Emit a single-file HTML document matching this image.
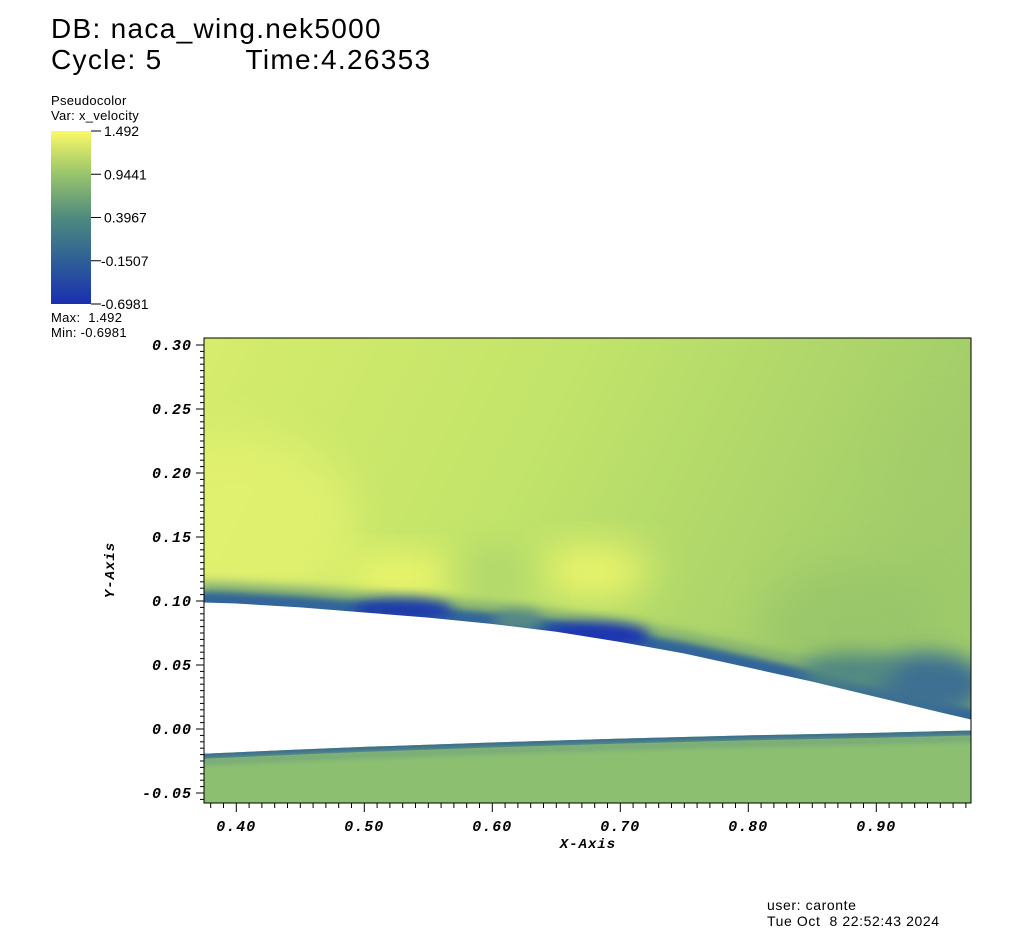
<!DOCTYPE html>
<html><head><meta charset="utf-8"><style>
body{margin:0;background:#fff;width:1023px;height:946px;overflow:hidden;font-family:"Liberation Sans",sans-serif}
.t{position:absolute;white-space:nowrap;color:#000}
</style></head><body>
<div class="t" style="left:51px;top:14px;font-size:28px;line-height:29px;letter-spacing:1.3px">DB: naca_wing.nek5000</div>
<div class="t" style="left:51px;top:45px;font-size:28px;line-height:29px;letter-spacing:1.3px">Cycle: 5<span style="display:inline-block;width:83px"></span>Time:4.26353</div>
<div class="t" style="left:51px;top:93px;font-size:13px;line-height:15px;letter-spacing:0.3px">Pseudocolor<br>Var: x_velocity</div>
<div class="t" style="left:51px;top:310px;font-size:13px;line-height:15px;letter-spacing:0.3px">Max:&nbsp; 1.492<br>Min: -0.6981</div>
<div class="t" style="left:767px;top:897px;font-size:14px;line-height:16px;letter-spacing:0.6px">user: caronte<br>Tue Oct&nbsp; 8 22:52:43 2024</div>
<svg id="s" width="1023" height="946" style="position:absolute;left:0;top:0">
<defs>
<linearGradient id="cb" x1="0" y1="1" x2="0" y2="0">
<stop offset="0" stop-color="#1a2fb0"/><stop offset="0.25" stop-color="#2e5f96"/><stop offset="0.5" stop-color="#4f8a7e"/><stop offset="0.75" stop-color="#98c46c"/><stop offset="1" stop-color="#fafa66"/></linearGradient>
<linearGradient id="bg" x1="0" y1="0" x2="1" y2="0.3">
<stop offset="0" stop-color="#d6ec6c"/><stop offset="0.45" stop-color="#c2e46a"/><stop offset="1" stop-color="#9fcb6a"/></linearGradient>
<filter id="b6" x="-50%" y="-50%" width="200%" height="200%"><feGaussianBlur stdDeviation="6"/></filter>
<filter id="b10" x="-50%" y="-50%" width="200%" height="200%"><feGaussianBlur stdDeviation="10"/></filter>
<filter id="b3" x="-50%" y="-50%" width="200%" height="200%"><feGaussianBlur stdDeviation="3"/></filter>
<filter id="b20" x="-50%" y="-50%" width="200%" height="200%"><feGaussianBlur stdDeviation="20"/></filter>
<clipPath id="pc"><rect x="204" y="338" width="767" height="465"/></clipPath>
</defs>
<rect x="51" y="131" width="40" height="173" fill="url(#cb)"/>
<g id="field" clip-path="url(#pc)"></g>
<rect x="204" y="338" width="767" height="465" fill="none" stroke="#000" stroke-width="1"/>
<g id="axes"></g>
</svg>
<script>
const xTicks=[0.40,0.50,0.60,0.70,0.80,0.90];
const yTicks=[-0.05,0.00,0.05,0.10,0.15,0.20,0.25,0.30];
const cbTicks=["1.492","0.9441","0.3967","0.1507","0.6981"];
const upperX=[0.37,0.40,0.45,0.50,0.55,0.60,0.65,0.70,0.75,0.80,0.85,0.90,0.95,0.98];
const upperY=[0.099,0.098,0.095,0.091,0.087,0.082,0.076,0.068,0.059,0.048,0.037,0.025,0.013,0.006];
const lowerX=[0.37,0.45,0.50,0.60,0.70,0.80,0.90,0.98];
const lowerY=[-0.0195,-0.016,-0.014,-0.0105,-0.0075,-0.005,-0.003,-0.001];
const sx=v=>236.3+(v-0.40)*1280, sy=v=>729-v*1280;
const NS='http://www.w3.org/2000/svg';
function mk(t,a,p){const e=document.createElementNS(NS,t);for(const k in a)e.setAttribute(k,a[k]);p.appendChild(e);return e;}
const F=document.getElementById('field'),A=document.getElementById('axes'),S=document.getElementById('s');
const up=upperX.map((x,i)=>sx(x)+','+sy(upperY[i]));
const upShift=(d)=>upperX.map((x,i)=>sx(x)+','+(sy(upperY[i])-d)).join(' ');
let e=mk('rect',{x:204,y:338,width:767,height:465,fill:'url(#bg)'},F);

[[0.40,0.16,120,90,'#e4f270',0.8],[0.53,0.118,60,22,'#f6fa6a',0.9],[0.68,0.123,55,25,'#f6fa6a',0.9],[0.60,0.12,40,28,'#a8d26e',0.7],[0.88,0.08,90,60,'#96c46a',0.7],[0.95,0.19,40,70,'#a4cc6a',0.6]].forEach(b=>{
 e=mk('ellipse',{cx:sx(b[0]),cy:sy(b[1]),rx:b[2],ry:b[3],fill:b[4],opacity:b[5],filter:'url(#b20)'},F);
 });
e=mk('polyline',{points:upShift(13),fill:'none',stroke:'#f2f86a',"stroke-width":5,filter:'url(#b3)'},F);

e=mk('polyline',{points:upShift(4),fill:'none',stroke:'#6a9c78',"stroke-width":30,filter:'url(#b6)'},F);

e=mk('polyline',{points:upShift(1),fill:'none',stroke:'#33659a',"stroke-width":18,filter:'url(#b3)'},F);

[[0.94,0.035,60,32,'#3d6f92',10],[0.88,0.045,50,18,'#4f8682',10],[0.53,0.093,50,11,'#1e3aaa',6],[0.68,0.073,55,13,'#1c34b0',6],[0.62,0.085,25,10,'#5a8c84',6]].forEach(b=>{
 e=mk('ellipse',{cx:sx(b[0]),cy:sy(b[1]),rx:b[2],ry:b[3],fill:b[4],filter:b[5]>6?'url(#b10)':'url(#b6)'},F);
 });
const lo=lowerX.map((x,i)=>sx(x)+','+sy(lowerY[i]));
e=mk('polygon',{points:up.join(' ')+' '+sx(0.98)+','+sy(-0.0005)+' '+lo.slice().reverse().join(' '),fill:'#fff'},F);

e=mk('polygon',{points:lo.join(' ')+' 980,810 200,810',fill:'#8cc070'},F);

e=mk('polyline',{points:lowerX.map((x,i)=>sx(x)+','+(sy(lowerY[i])+2.5)).join(' '),fill:'none',stroke:'#3a6e90',"stroke-width":5},F);

e=mk('polyline',{points:lowerX.map((x,i)=>sx(x)+','+(sy(lowerY[i])+8)).join(' '),fill:'none',stroke:'#74a67a',"stroke-width":6,filter:'url(#b3)'},F);

const lbl='font-family:"Liberation Mono",monospace;font-weight:bold;font-style:italic;font-size:15px;letter-spacing:1px';
for(let v=0.38;v<=0.975;v+=0.01){const X=sx(v);const maj=Math.abs(v*10-Math.round(v*10))<1e-6;
 e=mk('line',{x1:X,y1:803,x2:X,y2:maj?812:808,stroke:'#000'},A);}
for(let v=-0.055;v<=0.305;v+=0.005){const Y=sy(v);if(Y<338||Y>803)continue;const maj=Math.abs(v*20-Math.round(v*20))<1e-6;
 e=mk('line',{x1:maj?196:200,y1:Y,x2:204,y2:Y,stroke:'#000'},A);}
xTicks.forEach(v=>{e=mk('text',{x:sx(v),y:831,'text-anchor':'middle',style:lbl},A);e.textContent=v.toFixed(2);
 });
yTicks.forEach(v=>{e=mk('text',{x:192,y:sy(v)+5,'text-anchor':'end',style:lbl},A);e.textContent=(v<0?'-':'')+Math.abs(v).toFixed(2);
 });
e=mk('text',{x:588,y:848,'text-anchor':'middle',style:lbl.replace('15px','14px')},A);e.textContent='X-Axis';

e=mk('text',{x:0,y:0,'text-anchor':'middle',transform:'translate(114,570) rotate(-90)',style:lbl.replace('15px','14px')},A);e.textContent='Y-Axis';

cbTicks.forEach((t,i)=>{const Y=131+i*43.25;
 e=mk('line',{x1:91,y1:Y,x2:101,y2:Y,stroke:'#000'},S);
 e=mk('text',{x:i>=3?101:104,y:Y+5,style:'font-family:"Liberation Sans",sans-serif;font-size:14px'},S);e.textContent=(i>=3?'-':'')+t;
 });
</script>
</body></html>
